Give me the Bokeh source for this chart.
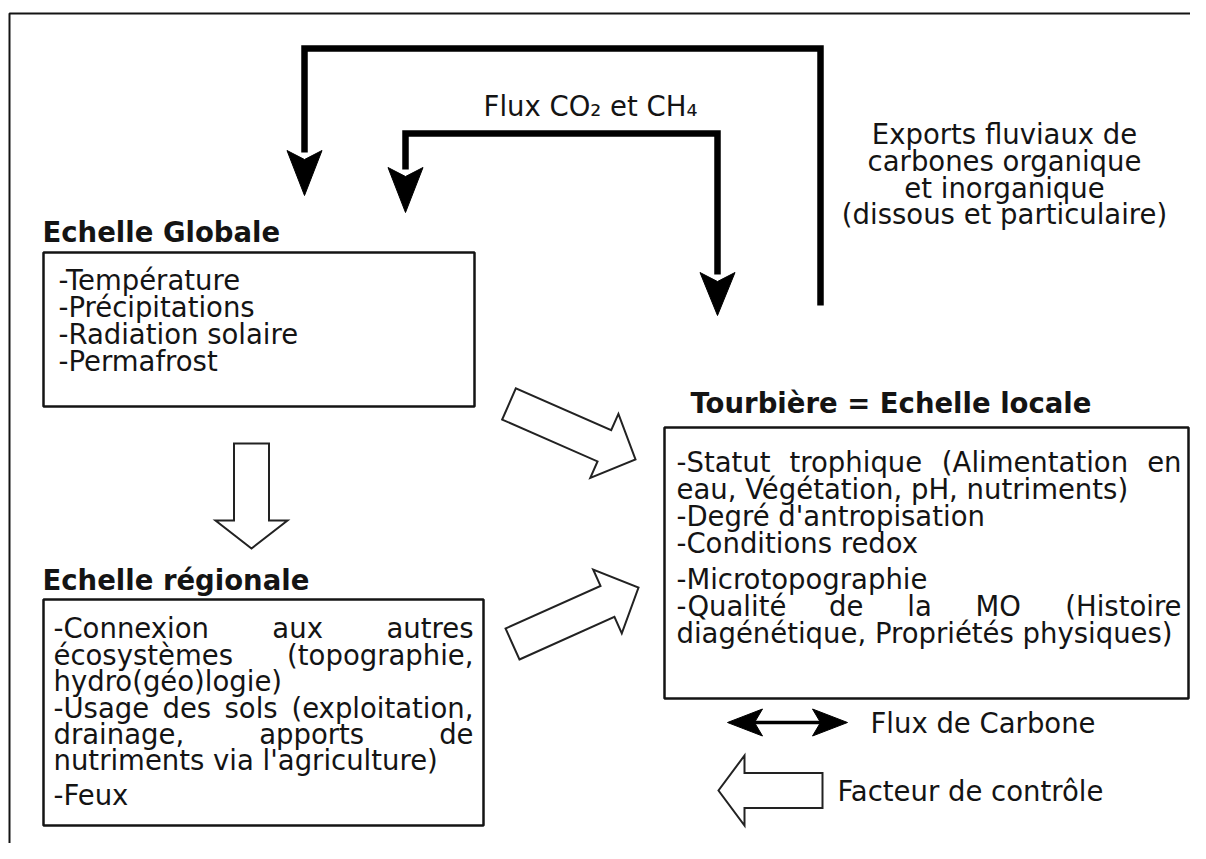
import math
from bokeh.plotting import figure
from bokeh.models import Range1d, ColumnDataSource
from bokeh.core.properties import value
from bokeh.embed import file_html
from bokeh.resources import INLINE

# ---------------- content (texts of the diagram) ----------------
TITLE_GLOBAL = "Echelle Globale"
TITLE_REGIONAL = "Echelle régionale"
TITLE_LOCAL = "Tourbière = Echelle locale"
FLUX_GAS = "Flux CO₂ et CH₄"
EXPORT_LINES = ["Exports fluviaux de", "carbones organique", "et inorganique",
                "(dissous et particulaire)"]
GLOBAL_LINES = ["-Température", "-Précipitations", "-Radiation solaire", "-Permafrost"]
# (line, justified?)
REGIONAL_LINES = [("-Connexion aux autres", True), ("écosystèmes (topographie,", True),
                  ("hydro(géo)logie)", False), ("-Usage des sols (exploitation,", True),
                  ("drainage, apports de", True), ("nutriments via l'agriculture)", False),
                  ("-Feux", False)]
LOCAL_LINES = [("-Statut trophique (Alimentation en", True),
               ("eau, Végétation, pH, nutriments)", False),
               ("-Degré d'antropisation", False), ("-Conditions redox", False),
               ("-Microtopographie", False), ("-Qualité de la MO (Histoire", True),
               ("diagénétique, Propriétés physiques)", False)]
LEGEND_LABELS = ["Flux de Carbone", "Facteur de contrôle"]

# ---------------- layout ----------------
FONT = "DejaVu Sans"
FS = 27.5
INK = "#141414"
MID = 0.345 * FS  # baseline -> middle of em box

W, H = 1190, 843
X0, Y0 = 0, 0
p = figure(width=W, height=H, x_range=Range1d(X0, X0 + W), y_range=Range1d(Y0 + H, Y0),
           output_backend="svg", toolbar_location=None, x_axis_type=None, y_axis_type=None,
           min_border=0, outline_line_color=None, background_fill_color="white")
p.grid.visible = False

# DejaVu Sans advance widths (units / 2048) for justification
ADV = {' ': 651, "'": 563, '(': 799, ')': 799, ',': 651, '-': 739, '.': 651, '=': 1716,
       'A': 1401, 'C': 1430, 'D': 1577, 'E': 1294, 'F': 1178, 'G': 1589, 'H': 1540,
       'M': 1767, 'O': 1612, 'P': 1235, 'Q': 1612, 'R': 1423, 'S': 1300, 'T': 1251,
       'U': 1499, 'V': 1401, 'a': 1255, 'b': 1300, 'c': 1126, 'd': 1300, 'e': 1260,
       'f': 721, 'g': 1300, 'h': 1298, 'i': 569, 'j': 569, 'k': 1186, 'l': 569,
       'm': 1995, 'n': 1298, 'o': 1253, 'p': 1300, 'q': 1300, 'r': 842, 's': 1067,
       't': 803, 'u': 1298, 'v': 1212, 'w': 1675, 'x': 1212, 'y': 1212, 'z': 1075,
       'é': 1260, 'è': 1260, 'ô': 1253}


def width(s, fs):
    return sum(ADV.get(c, 1200) for c in s) / 2048.0 * fs


T = dict(x=[], y=[], text=[], align=[], style=[])


def put(x, yb, s, align="left", style="normal"):
    T["x"].append(x); T["y"].append(yb - MID); T["text"].append(s)
    T["align"].append(align); T["style"].append(style)


def para(lines, left, right, baselines):
    for (s, just), yb in zip(lines, baselines):
        words = s.split(" ")
        if not just or len(words) < 2:
            put(left, yb, s)
            continue
        ws = [width(w, FS) for w in words]
        gap = (right - left - sum(ws)) / (len(words) - 1)
        x = left
        for i, w in enumerate(words):
            if i == len(words) - 1:
                put(right, yb, w, "right")
            else:
                put(x, yb, w)
            x += ws[i] + gap


# titles (baselines)
put(42, 241, TITLE_GLOBAL, style="bold")
put(42, 589, TITLE_REGIONAL, style="bold")
put(690, 412, TITLE_LOCAL, style="bold")
# free texts
put(590, 115, FLUX_GAS, "center")
for s, yb in zip(EXPORT_LINES, [143, 170, 197, 223]):
    put(1004, yb, s, "center")
for s, yb in zip(GLOBAL_LINES, [289, 316, 343, 370]):
    put(58, yb, s)
para(REGIONAL_LINES, 53, 473, [637, 664, 690, 717, 743, 769, 804])
para(LOCAL_LINES, 676, 1181, [471, 498, 525, 552, 588, 615, 642])
put(870, 722 + MID, LEGEND_LABELS[0])
put(837, 790 + MID, LEGEND_LABELS[1])

# outer frame
p.line(x=[X0 + W, 9, 9], y=[13, 13, Y0 + H], line_color=INK, line_width=2)

# boxes
p.quad(left=[43, 43, 664], right=[474, 483, 1188], top=[252, 599, 427],
       bottom=[406, 825, 698], fill_color=None, line_color=INK, line_width=2.5)

# thick carbon-flux arrows
LW = 6.5
p.line(x=[820, 820, 304, 304], y=[305, 48, 48, 152], line_color="black", line_width=LW,
       line_join="miter")
p.line(x=[717, 717, 405, 405], y=[274, 133, 133, 169], line_color="black", line_width=LW,
       line_join="miter")


def head_down(cx, top, tip, w=35, notch=9):
    return [cx - w / 2, cx, cx + w / 2, cx], [top, top + notch, top, tip]


def head_h(tipx, back, cy, h=27, notch=8):
    d = 1 if back > tipx else -1
    return [back, back - d * notch, back, tipx], [cy - h / 2, cy, cy + h / 2, cy]


hx, hy = [], []
for cx, top, tip in [(304, 150, 195), (405, 167, 212), (717, 272, 315)]:
    a, b = head_down(cx, top, tip)
    hx.append(a); hy.append(b)
# legend double arrow
p.line(x=[752, 822], y=[722, 722], line_color="black", line_width=3.5)
for tipx, back in [(727, 762), (847, 812)]:
    a, b = head_h(tipx, back, 722)
    hx.append(a); hy.append(b)
p.patches(xs=hx, ys=hy, fill_color="black", line_color="black", line_width=1)


# hollow "control factor" arrows
def hollow(tail, tip, sw, hw, hl):
    dx, dy = tip[0] - tail[0], tip[1] - tail[1]
    L = math.hypot(dx, dy)
    ux, uy = dx / L, dy / L
    px, py = -uy, ux
    bx, by = tip[0] - ux * hl, tip[1] - uy * hl
    pts = [(tail[0] + px * sw / 2, tail[1] + py * sw / 2),
           (bx + px * sw / 2, by + py * sw / 2),
           (bx + px * hw / 2, by + py * hw / 2),
           tip,
           (bx - px * hw / 2, by - py * hw / 2),
           (bx - px * sw / 2, by - py * sw / 2),
           (tail[0] - px * sw / 2, tail[1] - py * sw / 2)]
    return [q[0] for q in pts], [q[1] for q in pts]


ax, ay = [], []
for tail, tip, sw, hw, hl in [((251, 443), (251, 548), 35, 72, 28),
                              ((508.5, 403.5), (635, 459), 34, 70, 34),
                              ((512, 643.5), (638, 587), 34, 70, 34),
                              ((822, 790), (718, 790), 35, 70, 26)]:
    a, b = hollow(tail, tip, sw, hw, hl)
    ax.append(a); ay.append(b)
p.patches(xs=ax, ys=ay, fill_color="white", line_color="#222222", line_width=2,
          line_join="miter")

src = ColumnDataSource(T)
p.text(x="x", y="y", text="text", source=src, text_align="align", text_font_style="style",
       text_baseline="middle", text_font=value(FONT), text_font_size=value(f"{FS}px"),
       text_color=INK)

open("out.html", "w").write(file_html(p, INLINE))
